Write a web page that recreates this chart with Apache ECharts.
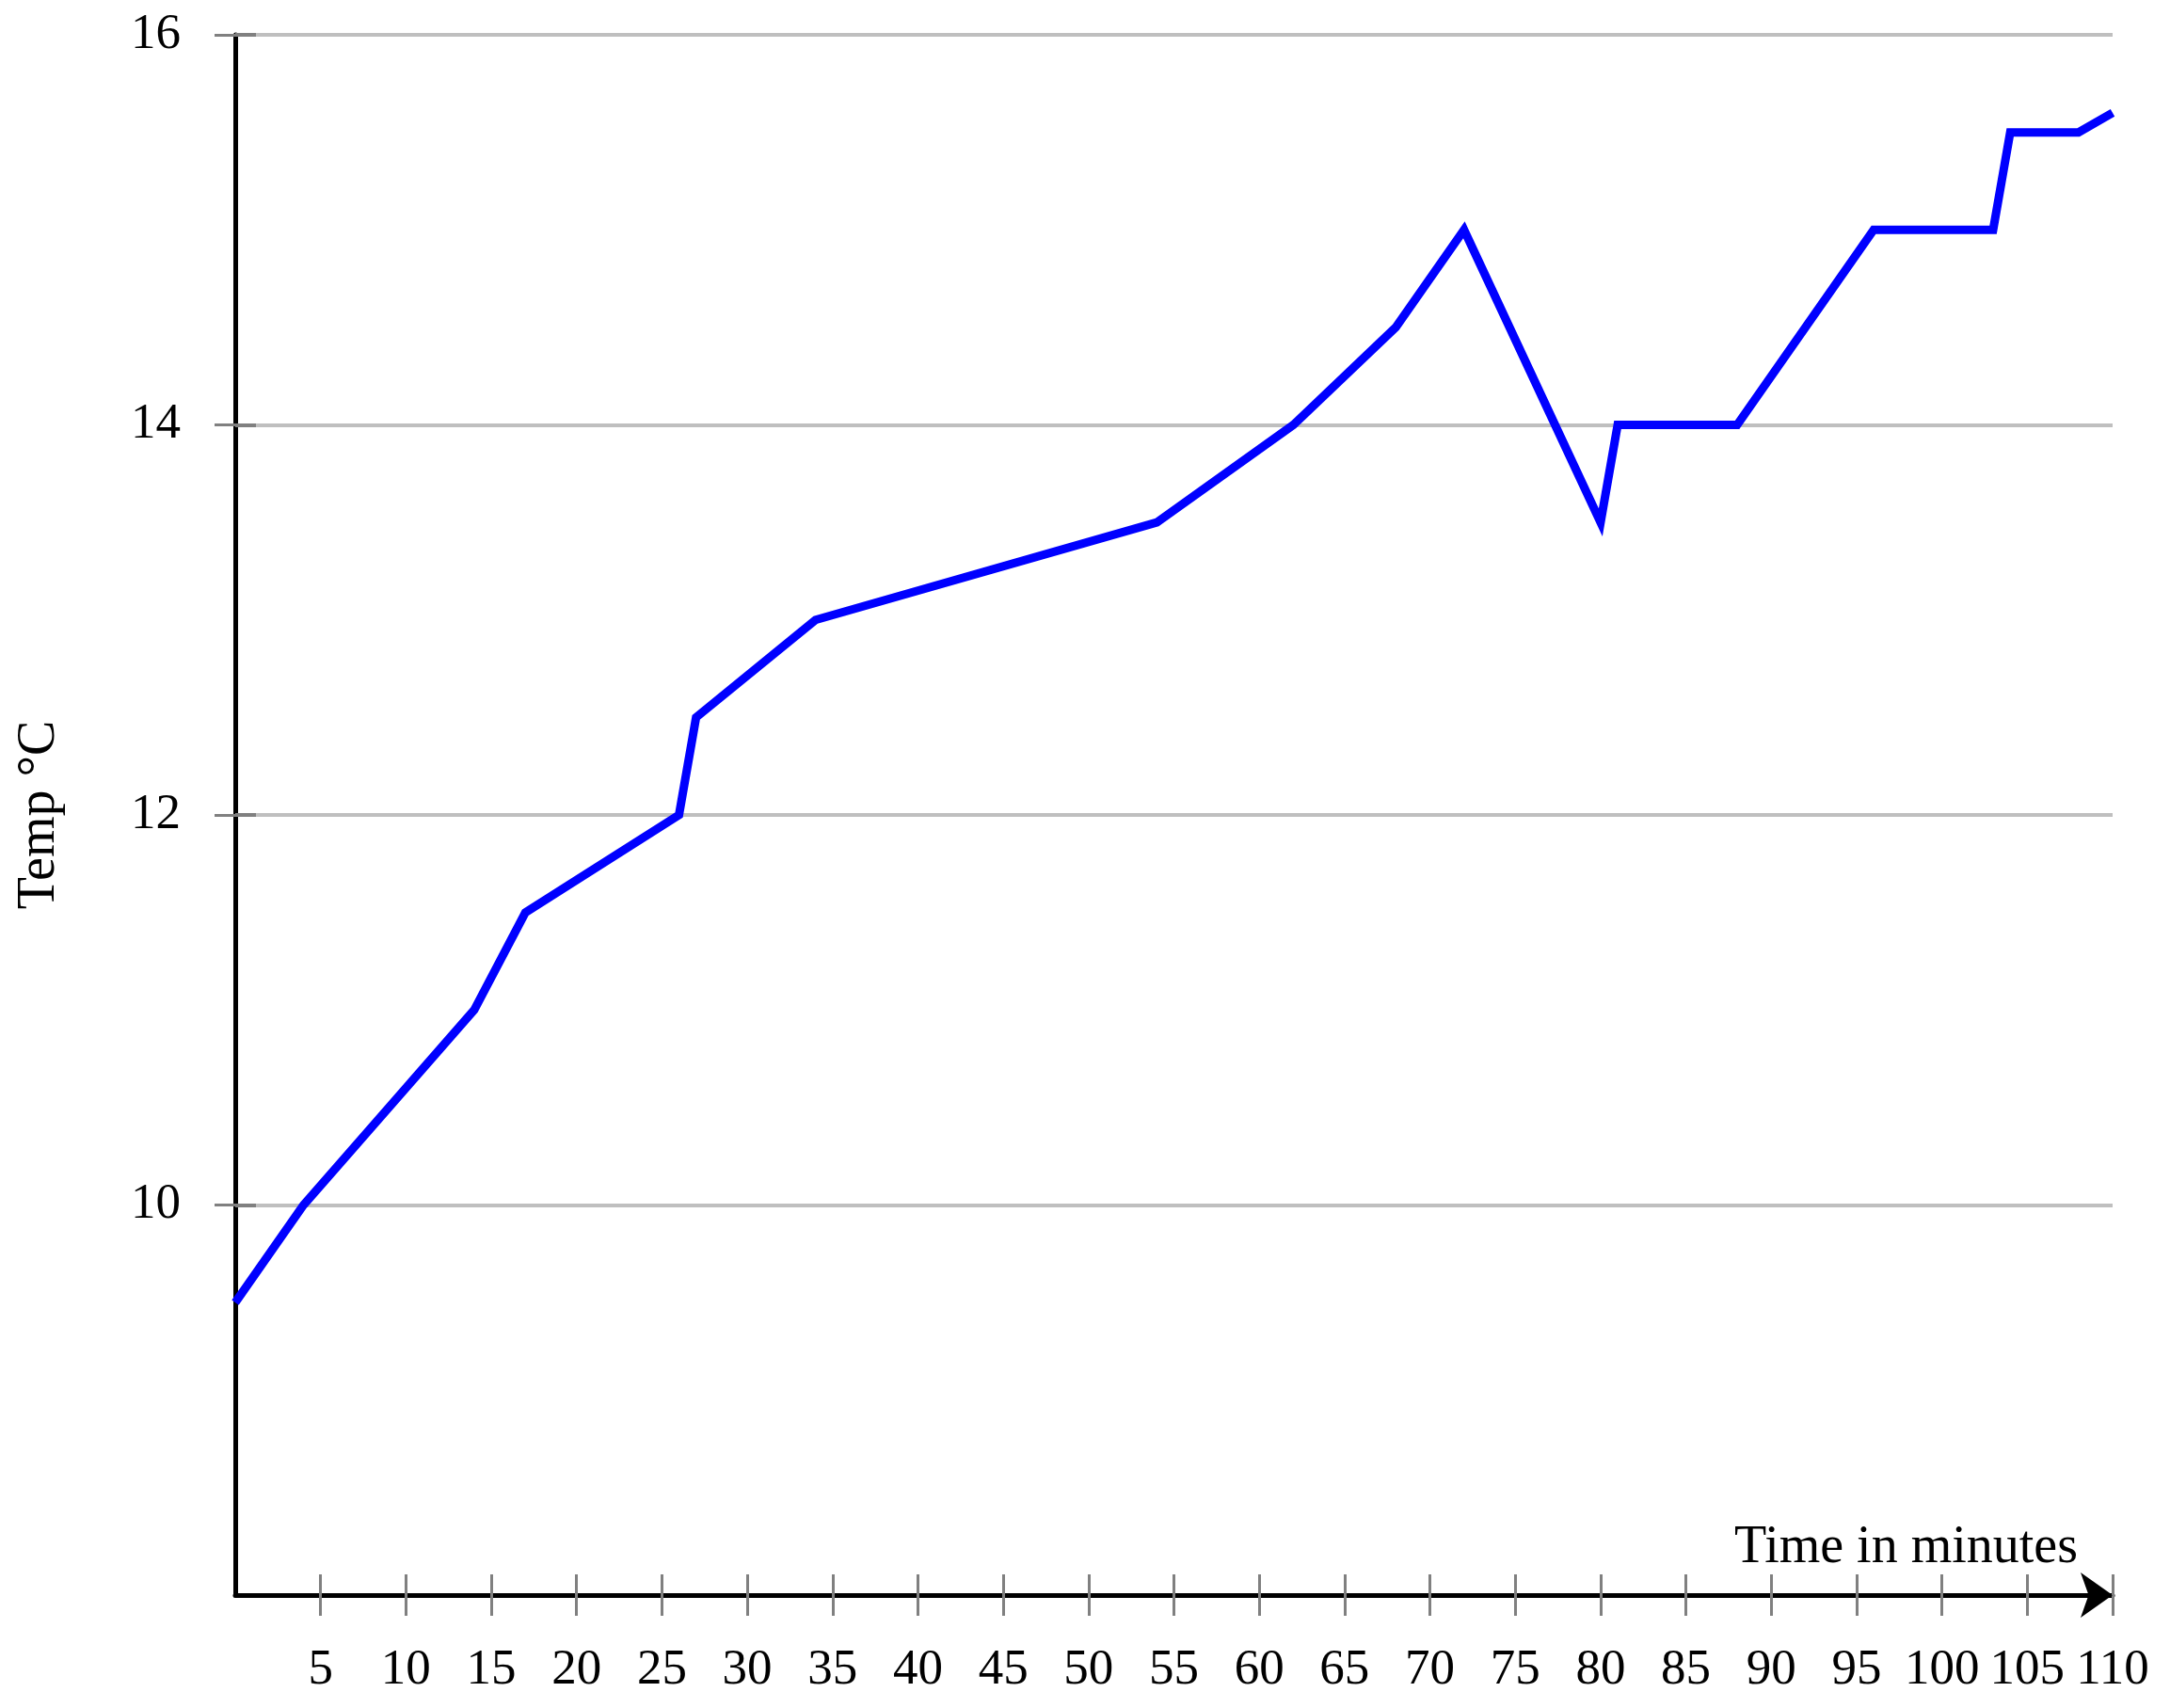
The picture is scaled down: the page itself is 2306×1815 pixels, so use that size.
<!DOCTYPE html>
<html>
<head>
<meta charset="utf-8">
<script src="https://cdn.jsdelivr.net/npm/echarts@6/dist/echarts.min.js"></script>
<style>
html,body{margin:0;padding:0;background:#fff;}
#chart{width:2306px;height:1815px;}
</style>
</head>
<body>
<div id="chart"></div>
<script>
// Data
const timeMinutes = [0, 4, 14, 17, 26, 27, 34, 54, 62, 68, 72, 80, 81, 88, 96, 103, 104, 108, 110];
const tempC = [9.5, 10, 11, 11.5, 12, 12.5, 13, 13.5, 14, 14.5, 15, 13.5, 14, 14, 15, 15, 15.5, 15.5, 15.6];
const xTickValues = [5,10,15,20,25,30,35,40,45,50,55,60,65,70,75,80,85,90,95,100,105,110];
const yTickValues = [10, 12, 14, 16];
const xAxisTitle = 'Time in minutes';
const yAxisTitle = 'Temp °C';

const FONT = '"Liberation Serif", "DejaVu Serif", serif';
const points = timeMinutes.map((t, i) => [t, tempC[i]]);

const chart = echarts.init(document.getElementById('chart'), null, {renderer: 'canvas'});

const xBase = {
  type: 'value', min: 0, max: 110, interval: 5, position: 'bottom', offset: 0,
  splitLine: {show: false}
};
const yBase = {
  type: 'value', min: 8, max: 16, interval: 2, position: 'left', offset: 0
};

chart.setOption({
  animation: false,
  backgroundColor: '#ffffff',
  grid: {left: 250, right: 61, top: 37, bottom: 120, containLabel: false},
  xAxis: [
    Object.assign({}, xBase, {
      name: xAxisTitle,
      nameLocation: 'end',
      nameGap: -37,
      nameTextStyle: {fontFamily: FONT, fontSize: 56, color: '#000', align: 'right', verticalAlign: 'bottom', padding: [0, 0, 22, 0]},
      axisLine: {show: true, lineStyle: {color: '#000', width: 5}, symbol: ['none', 'arrow'], symbolSize: [36, 34], symbolOffset: [0, 0]},
      axisTick: {show: true, inside: false, length: 22, customValues: xTickValues, lineStyle: {color: '#808080', width: 3}},
      axisLabel: {show: true, margin: 54, customValues: xTickValues, fontFamily: FONT, fontSize: 53, color: '#000'}
    }),
    Object.assign({}, xBase, {
      z: 5,
      axisLine: {show: false},
      axisTick: {show: true, inside: true, length: 22, customValues: xTickValues, lineStyle: {color: '#808080', width: 3}},
      axisLabel: {show: false}
    })
  ],
  yAxis: [
    Object.assign({}, yBase, {
      name: yAxisTitle,
      nameLocation: 'middle',
      nameGap: 180,
      nameRotate: 90,
      nameTextStyle: {fontFamily: FONT, fontSize: 56, color: '#000'},
      axisLine: {show: true, onZero: false, lineStyle: {color: '#000', width: 5}},
      axisTick: {show: true, inside: false, length: 22, customValues: yTickValues, lineStyle: {color: '#808080', width: 3}},
      axisLabel: {show: true, margin: 58, customValues: yTickValues, fontFamily: FONT, fontSize: 53, color: '#000'},
      splitLine: {show: true, lineStyle: {color: '#bfbfbf', width: 4}}
    }),
    Object.assign({}, yBase, {
      z: 5,
      axisLine: {show: false},
      axisTick: {show: true, inside: true, length: 22, customValues: yTickValues, lineStyle: {color: '#808080', width: 4}},
      axisLabel: {show: false},
      splitLine: {show: false}
    })
  ],
  series: [{
    type: 'line',
    data: points,
    xAxisIndex: 0,
    yAxisIndex: 0,
    showSymbol: false,
    symbol: 'none',
    lineStyle: {color: '#0000ff', width: 9, join: 'miter'},
    z: 3
  }]
});
</script>
</body>
</html>
